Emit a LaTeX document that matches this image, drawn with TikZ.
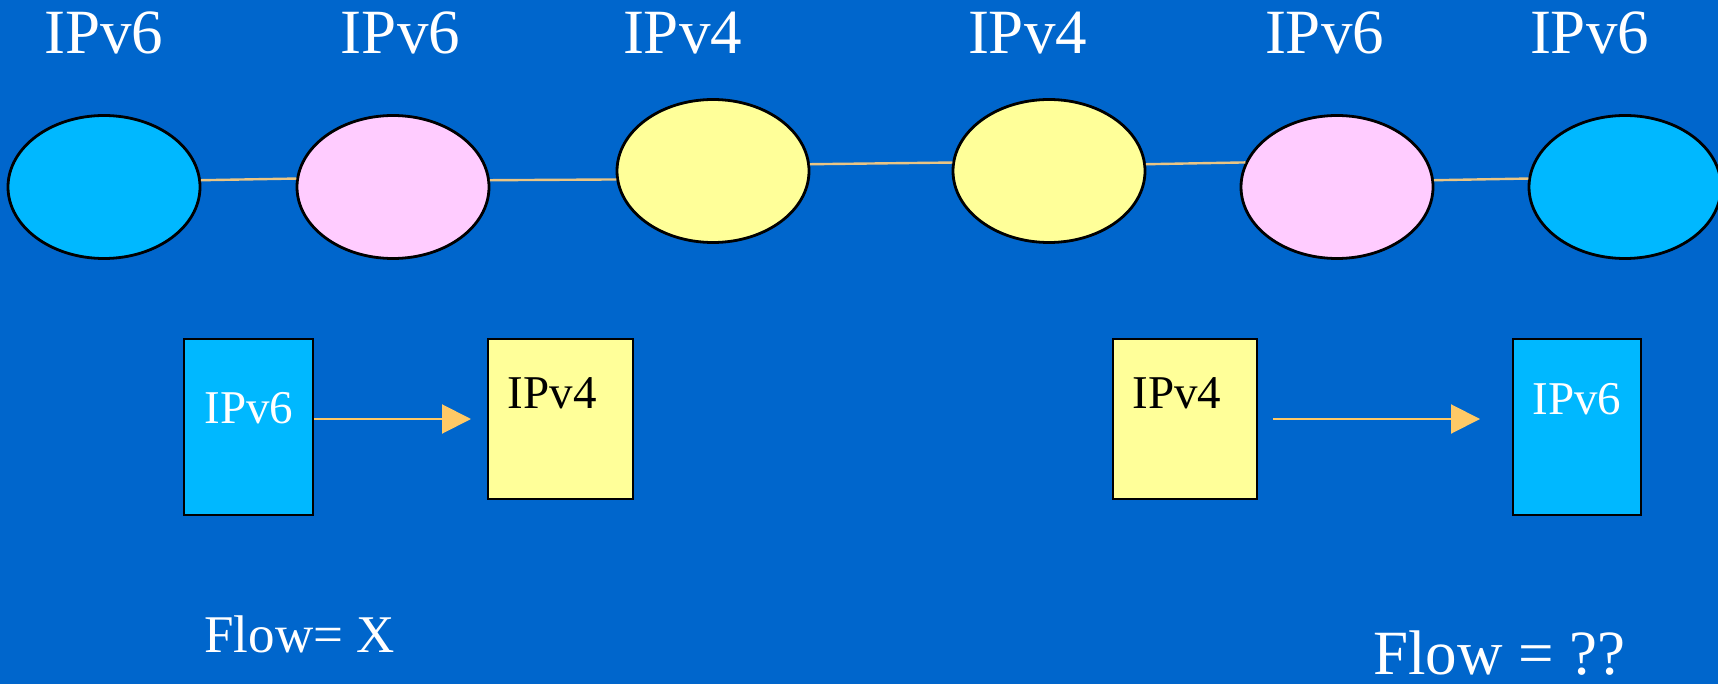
\documentclass[tikz,border=0pt]{standalone}
\usepackage{fontspec}
\setmainfont{Liberation Serif}
\usetikzlibrary{arrows.meta,shapes.geometric}
\definecolor{bgblue}{HTML}{0066CC}
\definecolor{skyblue}{HTML}{00B8FF}
\definecolor{pinkish}{HTML}{FFCCFF}
\definecolor{paleyellow}{HTML}{FFFF99}
\definecolor{arrowgold}{HTML}{FFC966}
\definecolor{linktan}{HTML}{EAC584}
\tikzset{
  net/.style={ellipse, draw=black, line width=1.4pt, minimum width=96pt, minimum height=71.5pt, inner sep=0pt},
  v6net/.style={net, fill=skyblue},
  tunnet/.style={net, fill=pinkish},
  v4net/.style={net, fill=paleyellow},
  hostbox/.style={rectangle, draw=black, line width=1pt, inner sep=0pt},
  link/.style={draw=linktan, line width=1.2pt},
  flowarrow/.style={draw=arrowgold, line width=1pt, -{Triangle[length=14.5pt,width=14.5pt]}, arrowgold},
  toplabel/.style={text=white, font=\fontsize{31.5}{36}\selectfont, inner sep=0pt, anchor=base},
  boxlabel/.style={font=\fontsize{23.5}{28}\selectfont, inner sep=0pt, anchor=base},
}
\begin{document}
\begin{tikzpicture}[x=0.5pt,y=-0.5pt]
\fill[bgblue] (0,0) rectangle (1718,684);
\useasboundingbox (0,0) rectangle (1718,684);
\clip (0,0) rectangle (1718,684);

% top labels
\node[toplabel] (t1) at (104,54) {IPv6};
\node[toplabel] (t2) at (400.5,54) {IPv6};
\node[toplabel] (t3) at (682.5,54) {IPv4};
\node[toplabel] (t4) at (1027.5,54) {IPv4};
\node[toplabel] (t5) at (1324.5,54) {IPv6};
\node[toplabel] (t6) at (1589.5,54) {IPv6};

% networks
\node[v6net] (e1) at (104,187) {};
\node[tunnet] (e2) at (393,187) {};
\node[v4net] (e3) at (713,171) {};
\node[v4net] (e4) at (1049,171) {};
\node[tunnet] (e5) at (1337,187) {};
\node[v6net] (e6) at (1625,187) {};

\draw[link] (e1.4.6) -- (e2.175.4);
\draw[link] (e2.4.6) -- (e3.185);
\draw[link] (e3.4.6) -- (e4.175.4);
\draw[link] (e4.4.6) -- (e5.165.3);
\draw[link] (e5.4.6) -- (e6.175.4);

% host boxes
\node[hostbox, fill=skyblue, minimum width=64.5pt, minimum height=88pt] (r1) at (248.5,427) {};
\node[hostbox, fill=paleyellow, minimum width=72.5pt, minimum height=80pt] (r2) at (560.5,419) {};
\node[hostbox, fill=paleyellow, minimum width=72pt, minimum height=80pt] (r3) at (1185,419) {};
\node[hostbox, fill=skyblue, minimum width=64pt, minimum height=88pt] (r4) at (1577,427) {};

\node[boxlabel, text=white] (l1) at (248.8,423.3) {IPv6};
\node[boxlabel, text=black] (l2) at (552.3,408.3) {IPv4};
\node[boxlabel, text=black] (l3) at (1177,408.3) {IPv4};
\node[boxlabel, text=white] (l4) at (1577,414.3) {IPv6};

% flow arrows
\draw[flowarrow] (r1.east |- r2.west) -- ([xshift=-8pt]r2.west);
\draw[flowarrow] ([xshift=7.5pt]r3.east) -- ([xshift=-16pt]r3.east -| r4.west);

% flow labels
\node[text=white, font=\fontsize{26.5}{30}\selectfont, inner sep=0pt, anchor=base west] (f1) at (204,652.7) {Flow= X};
\node[text=white, font=\fontsize{31.5}{36}\selectfont, inner sep=0pt, anchor=base west] (f2) at (1373,674) {Flow = ??};
\end{tikzpicture}
\end{document}
